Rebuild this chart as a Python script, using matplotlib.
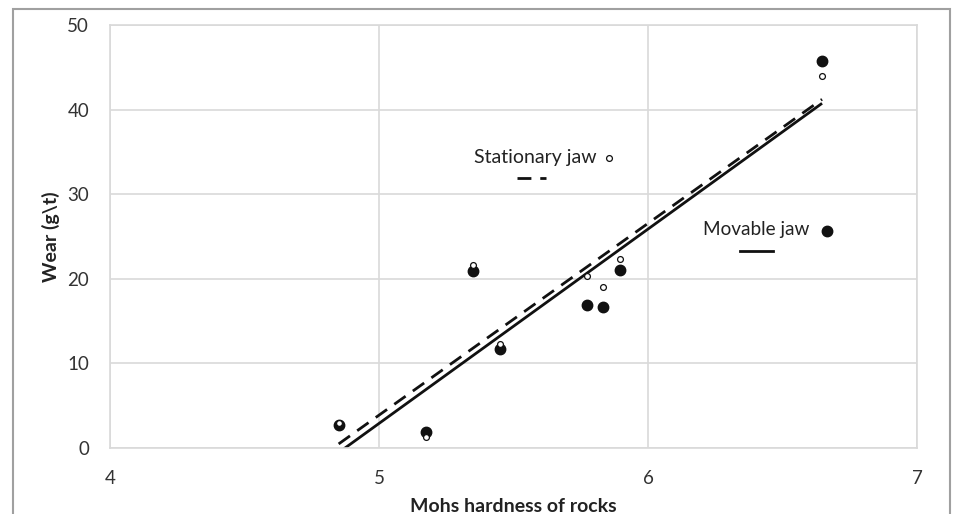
import numpy as np
import matplotlib
matplotlib.use("Agg")
import matplotlib.pyplot as plt
from matplotlib.patches import Rectangle

# Data
hardness = [4.85, 5.175, 5.35, 5.45, 5.773, 5.833, 5.896, 6.647]
movable_wear = [2.7, 1.9, 20.9, 11.7, 16.9, 16.7, 21.0, 45.7]
stationary_wear = [3.0, 1.3, 21.6, 12.3, 20.3, 19.0, 22.3, 44.0]
x_ticks = [4, 5, 6, 7]
y_ticks = [0, 10, 20, 30, 40, 50]

plt.rcParams['font.family'] = ['Lato', 'DejaVu Sans']

fig = plt.figure(figsize=(9.55, 5.14), dpi=100)
ax = fig.add_axes([110/955, 1-448/514, (917-110)/955, (448-25)/514])

grid_c = '#d9d9d9'
for s in ax.spines.values():
    s.set_color(grid_c)
    s.set_linewidth(1.2)
ax.grid(True, color=grid_c, linewidth=1.2)
ax.set_axisbelow(True)
ax.tick_params(length=0, labelsize=13.5, colors='#333333')
ax.tick_params(axis='x', pad=16)
ax.tick_params(axis='y', pad=15)

ax.set_xlim(4, 7)
ax.set_ylim(0, 50)
ax.set_xticks(x_ticks)
ax.set_yticks(y_ticks)

x = np.array(hardness)
xx = np.array([x.min(), x.max()])
pm = np.polyfit(x, movable_wear, 1)
ps = np.polyfit(x, stationary_wear, 1)
ax.plot(xx, np.polyval(pm, xx), color='#111111', lw=2.0, solid_capstyle='butt')
ax.plot(xx, np.polyval(ps, xx), color='#111111', lw=2.0, dashes=(5, 3.2))

ax.plot(hardness, movable_wear, 'o', color='#111111', ms=7.5, mec='#111111', zorder=3)
ax.plot(hardness, stationary_wear, 'o', mfc='white', mec='#111111', mew=0.9, ms=4.2, zorder=4)

# Legend-like annotations
tr = ax.transAxes
def px(xp, yp):
    return ((xp-110)/807, (448-yp)/423)
ax.text(*px(535, 158), 'Stationary jaw', transform=tr, ha='center', va='center', fontsize=14, color='#222222')
ax.plot(*px(609, 158), 'o', mfc='white', mec='#111111', mew=0.9, ms=4.2, transform=tr, clip_on=False)
p1, p2 = px(517, 178), px(546, 178)
ax.plot([p1[0], p2[0]], [p1[1], p2[1]], color='#111111', lw=2.0, dashes=(5, 3.2), transform=tr)
ax.text(*px(756, 229), 'Movable jaw', transform=tr, ha='center', va='center', fontsize=13.7, color='#222222')
ax.plot(*px(827, 231), 'o', color='#111111', ms=7.5, transform=tr, clip_on=False)
p1, p2 = px(740, 251), px(773, 251)
ax.plot([p1[0], p2[0]], [p1[1], p2[1]], color='#111111', lw=2.0, transform=tr)

ax.set_xlabel('Mohs hardness of rocks', fontsize=14, fontweight='bold', color='#222222', labelpad=8)
ax.set_ylabel('Wear (g\\t)', fontsize=14, fontweight='bold', color='#222222', labelpad=5)

# Outer frame
fig.patches.append(Rectangle((13/955, -0.05), (950-13)/955, (1-9/514)+0.05,
                             transform=fig.transFigure, fill=False,
                             edgecolor='#a0a0a0', linewidth=1.5))

fig.savefig('out.png', dpi=100)
